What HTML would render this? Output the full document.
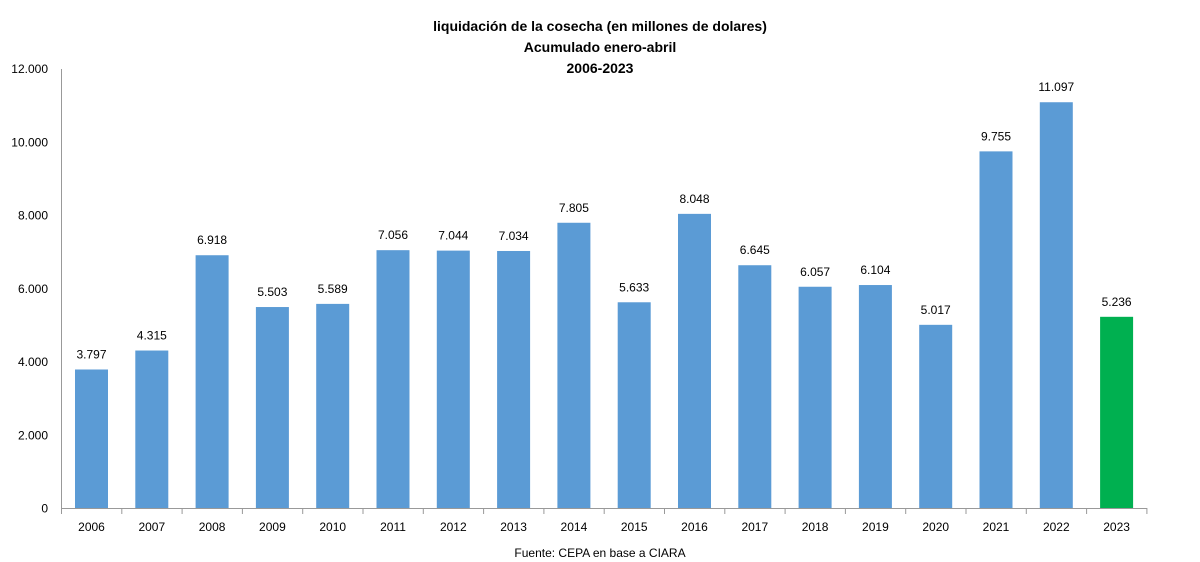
<!DOCTYPE html><html><head><style>body{margin:0;background:#fff}svg{display:block}text{font-family:"Liberation Sans",sans-serif;fill:#000}</style></head><body>
<svg width="1200" height="562" viewBox="0 0 1200 562">
<text x="600" y="31" text-anchor="middle" font-size="14" font-weight="bold">liquidación de la cosecha (en millones de dolares)</text>
<text x="600" y="52" text-anchor="middle" font-size="14" font-weight="bold">Acumulado enero-abril</text>
<text x="600" y="73" text-anchor="middle" font-size="14" font-weight="bold">2006-2023</text>
<g id="c"></g>
<text x="600" y="557" text-anchor="middle" font-size="12">Fuente:  CEPA  en base a CIARA</text>
</svg>
<script>
const v=[3797,4315,6918,5503,5589,7056,7044,7034,7805,5633,8048,6645,6057,6104,5017,9755,11097,5236];
const g=document.getElementById('c');let s='';
const Y=x=>508.5-x*0.03661;
for(let k=0;k<=6;k++){const y=Y(k*2000);s+=`<text x="48" y="${y+4}" text-anchor="end" font-size="12">${k?(k*2).toString()+'.000':'0'}</text>`;}
s+=`<line x1="61.5" y1="69" x2="61.5" y2="514" stroke="#999"/><line x1="61" y1="508.5" x2="1147" y2="508.5" stroke="#999"/>`;
for(let i=0;i<=18;i++){const x=61.5+i*60.3;s+=`<line x1="${x}" y1="508" x2="${x}" y2="514" stroke="#999"/>`;}
v.forEach((d,i)=>{const cx=91.5+i*60.3,y=Y(d);s+=`<rect x="${cx-16.5}" y="${y}" width="33" height="${508-y}" fill="${i==17?'#00B050':'#5B9BD5'}"/>`;
s+=`<text x="${cx}" y="${y-11}" text-anchor="middle" font-size="12">${(d/1000).toFixed(3)}</text>`;
s+=`<text x="${cx}" y="531" text-anchor="middle" font-size="12">${2006+i}</text>`;});
g.innerHTML=s;
</script></body></html>
